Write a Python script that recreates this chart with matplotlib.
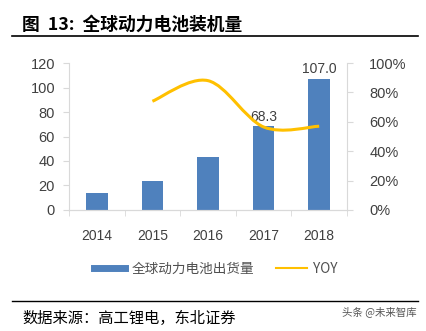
import numpy as np
import matplotlib.pyplot as plt
from matplotlib.path import Path
from matplotlib.patches import PathPatch
from matplotlib.lines import Line2D

plt.rcParams['font.family'] = ['Liberation Sans', 'Noto Sans CJK SC', 'DejaVu Sans']

years = ['2014', '2015', '2016', '2017', '2018']
shipments = [13.5, 23.5, 43.0, 68.3, 107.0]
yoy_years = [1, 2, 3, 4]
yoy = [0.74, 0.88, 0.565, 0.57]
labelled = {3: '68.3', 4: '107.0'}

blue = '#4F81BD'
gold = '#FFC000'
grey = '#D9D9D9'
cjk = ['Noto Sans CJK SC', 'DejaVu Sans']

fig = plt.figure(figsize=(4.27, 3.31), dpi=100)
ax = fig.add_axes([0.1616, 0.3656, 0.651, 0.444])
ax2 = ax.twinx()

x = np.arange(len(years))
ax.bar(x, shipments, width=0.39, color=blue, zorder=2)
for i, txt in labelled.items():
    ax.text(x[i], shipments[i] + 2, txt, ha='center', va='bottom', fontsize=10, color='#404040')

ax.set_xlim(-0.5, 4.5)
ax.set_ylim(0, 120)
ax.set_yticks(range(0, 121, 20))
ax.set_xticks(x)
ax.set_xticklabels(years)
ax.set_xticks(np.arange(-0.5, 4.6, 1), minor=True)
ax.tick_params(axis='x', which='major', length=0, pad=14, labelsize=10, labelcolor='#404040')
ax.tick_params(axis='x', which='minor', length=4, color=grey, direction='out')
ax.tick_params(axis='y', length=4, color=grey, labelsize=10.5, labelcolor='#404040', pad=6)

for a in (ax, ax2):
    a.spines['top'].set_visible(False)
    for s in ('left', 'right', 'bottom'):
        a.spines[s].set_color(grey)
ax.spines['right'].set_visible(False)
ax2.spines['left'].set_visible(False)

# smoothed YOY line (Bezier through the data points)
pts = np.column_stack([yoy_years, yoy])
verts = [tuple(pts[0])]
codes = [Path.MOVETO]
n = len(pts)
for i in range(n - 1):
    p0 = pts[max(i - 1, 0)]
    p1 = pts[i]
    p2 = pts[i + 1]
    p3 = pts[min(i + 2, n - 1)]
    c1 = p1 + (p2 - p0) / 6
    c2 = p2 - (p3 - p1) / 6
    verts += [tuple(c1), tuple(c2), tuple(p2)]
    codes += [Path.CURVE4] * 3
ax2.add_patch(PathPatch(Path(verts, codes), facecolor='none', edgecolor=gold, lw=2.2, zorder=3))

ax2.set_ylim(0, 1)
ax2.set_yticks(np.arange(0, 1.01, 0.2))
ax2.set_yticklabels(['0%', '20%', '40%', '60%', '80%', '100%'])
ax2.tick_params(axis='y', length=4, color=grey, labelsize=10.5, labelcolor='#404040', pad=12)

# legend
handles = [Line2D([], [], color=blue, lw=5), Line2D([], [], color=gold, lw=1.5)]
fig.legend(handles, ['全球动力电池出货量', 'YOY'], loc='center', bbox_to_anchor=(0.505, 0.187),
           ncol=2, frameon=False, prop={'family': cjk, 'size': 9.8}, handlelength=2.3,
           columnspacing=1.6, handletextpad=0.45, labelcolor='#505050')

# title, rules and source
fig.text(0.052, 0.925, '图  13:  全球动力电池装机量', family=cjk, fontsize=12.8, fontweight='bold',
         va='center', ha='left')
fig.add_artist(Line2D([0.028, 0.98], [0.891, 0.891], color='black', lw=1.2))
fig.add_artist(Line2D([0.028, 0.98], [0.091, 0.091], color='black', lw=1.0))
fig.text(0.052, 0.038, '数据来源：高工锂电，东北证券', family=cjk, fontsize=11, va='center', ha='left')
fig.text(0.975, 0.058, '头条 @未来智库', family=cjk, fontsize=7.5, color='#555555', va='center', ha='right')

fig.savefig('out.png', dpi=100)
